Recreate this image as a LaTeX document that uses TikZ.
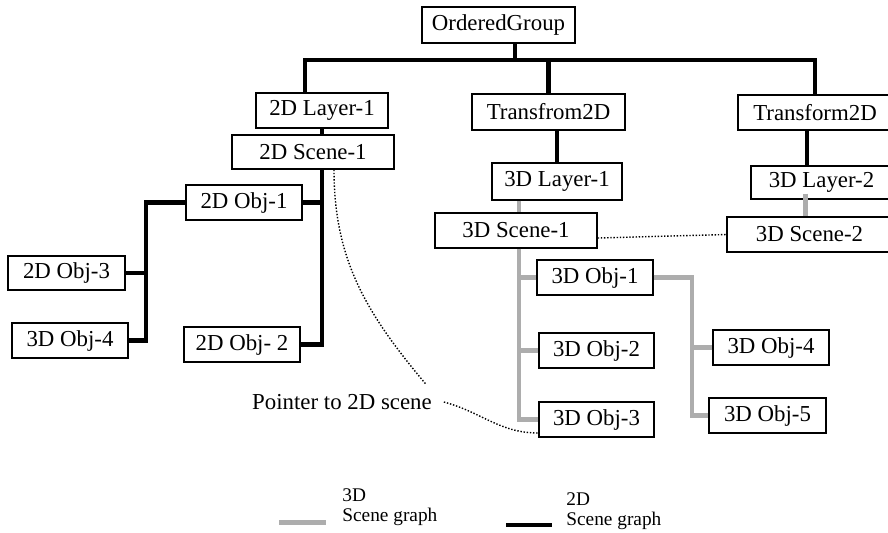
\documentclass[tikz,border=0pt]{standalone}
\usepackage{fontspec}
\setmainfont{Liberation Serif}
\usetikzlibrary{positioning}
\definecolor{graph3d}{gray}{0.68}
\tikzset{
  objbox/.style={draw=black, line width=0.75pt, fill=white, inner sep=0pt,
    minimum height=0.70cm, font=\fontsize{13}{14}\selectfont},
  line2d/.style={draw=black, line width=2.3pt},
  line3d/.style={draw=graph3d, line width=2.8pt},
  pointer/.style={draw=black, line width=0.8pt, densely dotted},
  legtext/.style={align=left, inner sep=0pt, font=\fontsize{11}{11.6}\selectfont}
}

\begin{document}
\begin{tikzpicture}[x=0.02cm,y=-0.02cm]
\useasboundingbox (0,0) rectangle (888,532);

\node[objbox, minimum width=3.06cm, minimum height=0.72cm] (grp) at (498.5,25) {OrderedGroup};%root
\node[objbox, minimum width=2.64cm] (lay2d) at (322,110.5) {2D Layer-1};
\node[objbox, minimum width=3.24cm, minimum height=0.68cm] (scn2d) at (313,152) {2D Scene-1};
\node[objbox, minimum width=3.06cm, minimum height=0.72cm] (traA) at (548.5,112) {Transfrom2D};
\node[objbox, minimum width=2.60cm, minimum height=0.74cm] (lay3a) at (557,181.5) {3D Layer-1};
\node[objbox, minimum width=3.08cm] (traB) at (815,112.5) {Transform2D};
\node[objbox, minimum width=2.82cm, minimum height=0.66cm] (lay3b) at (821.5,182.5) {3D Layer-2};
\node[objbox, minimum width=3.24cm] (scn3a) at (516,230.5) {3D Scene-1};
\node[objbox, minimum width=3.30cm] (scn3b) at (809.5,234.5) {3D Scene-2};

% objects of the 3D scene
\node[objbox, minimum width=2.32cm] (obj3a) at (595,277.5) {3D Obj-1};
\node[objbox, minimum width=2.30cm] (obj3b) at (596.5,350.5) {3D Obj-2};
\node[objbox, minimum width=2.30cm] (obj3c) at (596.5,419.5) {3D Obj-3};
\node[objbox, minimum width=2.32cm] (obj3d) at (771,347.5) {3D Obj-4};
\node[objbox, minimum width=2.34cm] (obj3e) at (767.5,415.5) {3D Obj-5};

% objects of the 2D scene
\node[objbox, minimum width=2.32cm] (obj2a) at (244,202.5) {2D Obj-1};
\node[objbox, minimum width=2.32cm] (obj2b) at (242,344.5) {2D Obj- 2};
\node[objbox, minimum width=2.34cm, minimum height=0.68cm] (obj2c) at (66.5,273) {2D Obj-3};
\node[objbox, minimum width=2.32cm] (obj2d) at (70,340.5) {3D Obj-4};

\node[inner sep=1pt, font=\fontsize{13}{14}\selectfont] (ptr) at (342,402) {Pointer to 2D scene};

\coordinate (bus) at (0,60);%top bar
\coordinate (tr2d) at (146,0);%left trunk
\coordinate (tr3d) at (519,0);%3D trunk
\coordinate (sub3d) at (692,0);%3D sub trunk

% 2D scene graph
\draw[line2d] ([xshift=-0.34cm]lay2d.north) |- (traB.north |- bus) -- (traB.north);
\draw[line2d] (traA.north) -- (traA.north |- bus);
\draw[line2d] ([xshift=0.33cm]grp.south) -- ([xshift=0.33cm]grp.south |- bus);
\draw[line2d] (lay2d.south) -- (lay2d.south |- scn2d.north);
\draw[line2d] (lay3a.north) -- (lay3a.north |- traA.south);
\draw[line2d] ([xshift=-0.16cm]traB.south) -- ([xshift=-0.16cm]traB.south |- lay3b.north);
\draw[line2d] (lay2d.south |- scn2d.south) |- (obj2b.east);
\draw[line2d] (obj2a.east) -- (obj2a.east -| lay2d.south);
\draw[line2d] (obj2a.west) -| (tr2d |- obj2d.east) -- (obj2d.east);
\draw[line2d] (obj2c.east) -- (obj2c.east -| tr2d);

% 3D scene graph
\draw[line3d] (tr3d |- lay3a.south) -- (tr3d |- scn3a.north);
\draw[line3d] (tr3d |- scn3a.south) |- (obj3c.west);
\draw[line3d] (obj3a.west) -- (obj3a.west -| tr3d);
\draw[line3d] (obj3b.west) -- (obj3b.west -| tr3d);
\draw[line3d] (obj3a.east) -| (sub3d |- obj3e.west) -- (obj3e.west);
\draw[line3d] (obj3d.west) -- (obj3d.west -| sub3d);
\draw[line3d] ([xshift=-0.32cm,yshift=0.12cm]lay3b.south) -- ([xshift=-0.32cm]lay3b.south |- scn3b.north);

% pointers
\draw[pointer] ([yshift=-0.15cm]scn3a.east) -- (scn3b.west);
\draw[pointer] ([xshift=0.42cm]scn2d.south) to[out=-90,in=130] ([xshift=-0.16cm,yshift=0.16cm]ptr.north east);
\draw[pointer] ([xshift=0.2cm]ptr.east) to[out=-15,in=180] ([yshift=-0.27cm]obj3c.west);

% legend
\node[legtext, anchor=west] (leg3d) at (342,507) {3D\\Scene graph};
\node[legtext, anchor=west] (leg2d) at (566,511) {2D\\Scene graph};
\draw[line3d] ([xshift=-1.26cm,yshift=0.08cm]leg3d.south west) -- ++(0.94cm,0);
\draw[line2d] ([xshift=-1.2cm,yshift=0.1cm]leg2d.south west) -- ++(0.92cm,0);

\end{tikzpicture}
\end{document}
